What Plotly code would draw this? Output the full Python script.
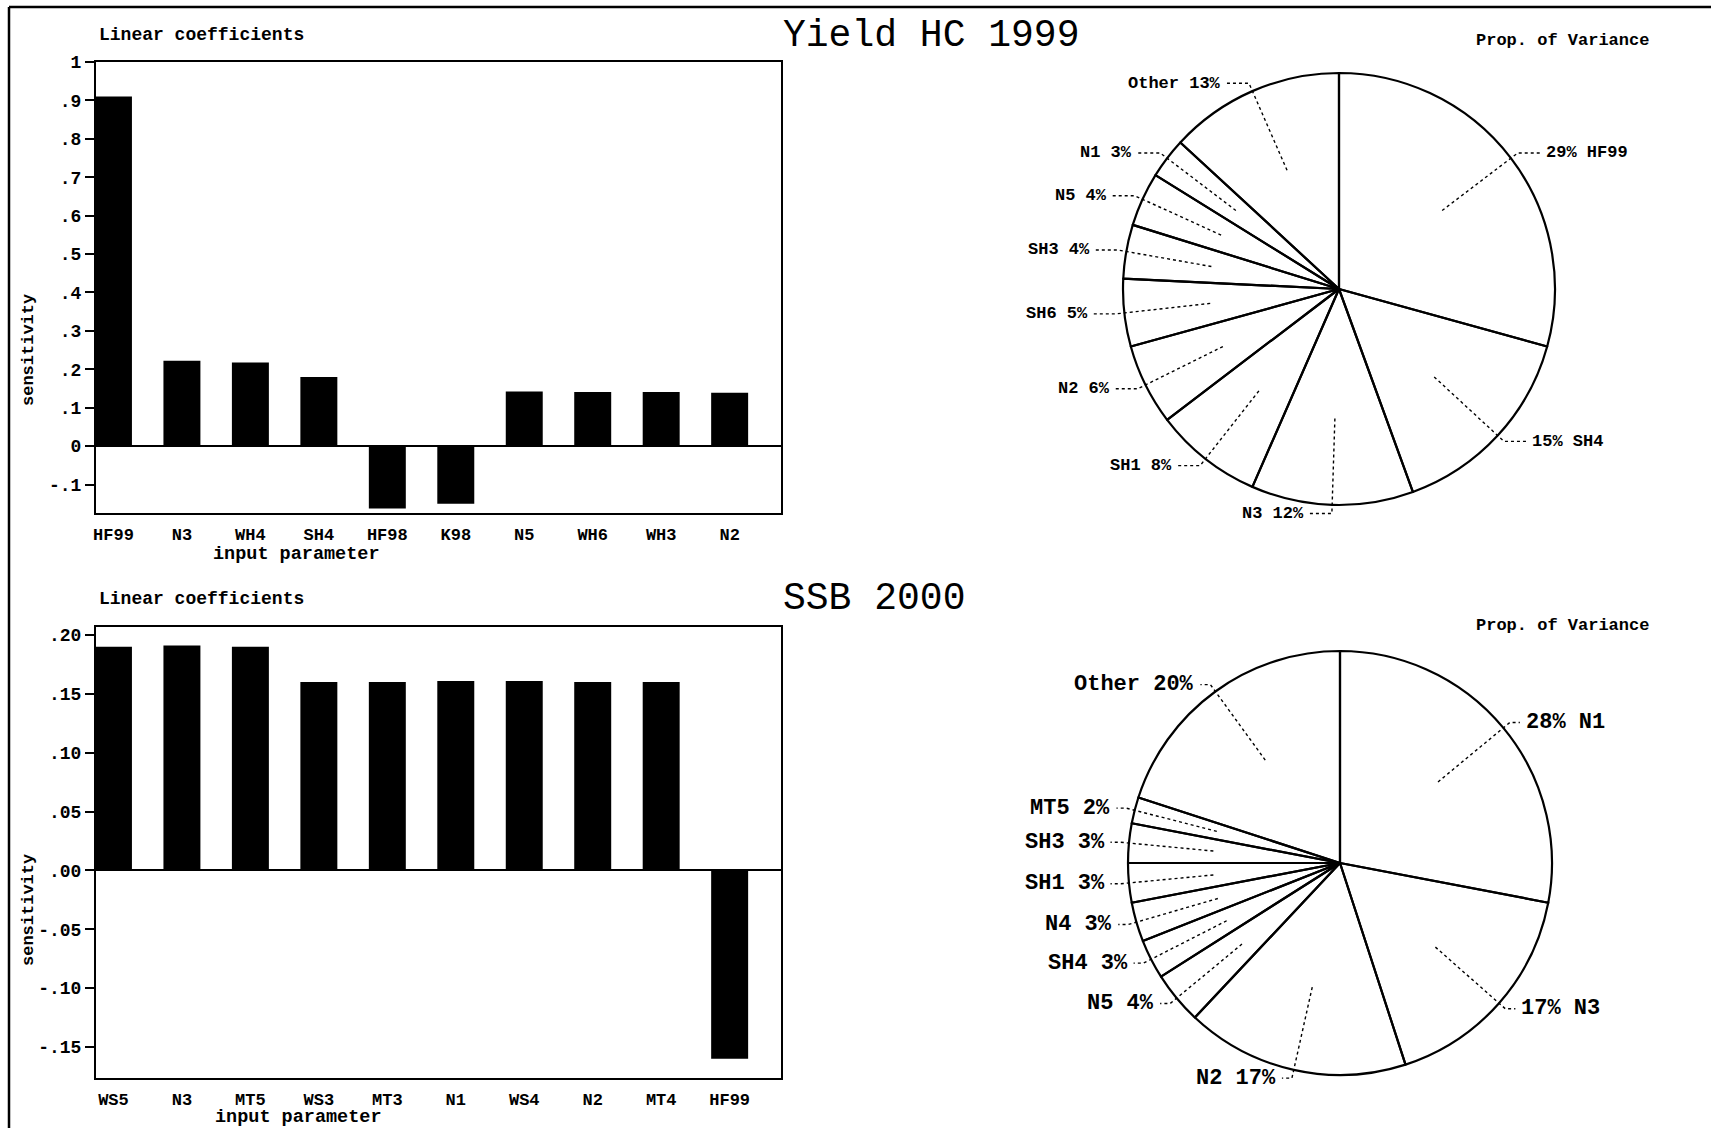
import math
import plotly.graph_objects as go

W, H = 1711, 1128

# ---------------- data ----------------
bar1_cats = ["HF99", "N3", "WH4", "SH4", "HF98", "K98", "N5", "WH6", "WH3", "N2"]
bar1_vals = [0.91, 0.222, 0.218, 0.18, -0.162, -0.15, 0.142, 0.141, 0.141, 0.139]
bar1_tickvals = [1.0, 0.9, 0.8, 0.7, 0.6, 0.5, 0.4, 0.3, 0.2, 0.1, 0.0, -0.1]
bar1_ticktext = ["1", ".9", ".8", ".7", ".6", ".5", ".4", ".3", ".2", ".1", "0", "-.1"]

bar2_cats = ["WS5", "N3", "MT5", "WS3", "MT3", "N1", "WS4", "N2", "MT4", "HF99"]
bar2_vals = [0.19, 0.191, 0.19, 0.16, 0.16, 0.161, 0.161, 0.16, 0.16, -0.16]
bar2_tickvals = [0.20, 0.15, 0.10, 0.05, 0.00, -0.05, -0.10, -0.15]
bar2_ticktext = [".20", ".15", ".10", ".05", ".00", "-.05", "-.10", "-.15"]

pie1_labels = ["HF99", "SH4", "N3", "SH1", "N2", "SH6", "SH3", "N5", "N1", "Other"]
pie1_values = [29, 15, 12, 8, 6, 5, 4, 4, 3, 13]

pie2_labels = ["N1", "N3", "N2", "N5", "SH4", "N4", "SH1", "SH3", "MT5", "Other"]
pie2_values = [28, 17, 17, 4, 3, 3, 3, 3, 2, 20]

# ---------------- layout geometry (pixels) ----------------
BAR_L, BAR_R = 96, 781
BAR1_T, BAR1_B = 62, 513
BAR2_T, BAR2_B = 627, 1078
PIE1 = (1339, 289, 216)
PIE2 = (1340, 863, 212)

MONO = "Liberation Mono, DejaVu Sans Mono, monospace"
LBL = dict(family=MONO, size=17, color="black", weight="bold")
TICK = dict(family=MONO, size=18, color="black", weight="bold")


def dx(a, b):
    return [a / W, b / W]


def dy(t, b):
    return [1 - b / H, 1 - t / H]


fig = go.Figure()

# bars
fig.add_trace(go.Bar(x=bar1_cats, y=bar1_vals, marker=dict(color="black", line=dict(width=0)),
                     width=0.54, xaxis="x", yaxis="y", showlegend=False, hoverinfo="skip"))
fig.add_trace(go.Bar(x=bar2_cats, y=bar2_vals, marker=dict(color="black", line=dict(width=0)),
                     width=0.54, xaxis="x2", yaxis="y2", showlegend=False, hoverinfo="skip"))


def pie_trace(labels, values, geo):
    cx, cy, r = geo
    return go.Pie(labels=labels, values=values, sort=False, direction="clockwise", rotation=0,
                  textinfo="none", hoverinfo="skip", showlegend=False, automargin=False,
                  marker=dict(colors=["rgba(0,0,0,0)"] * len(values),
                              line=dict(color="black", width=2.2)),
                  domain=dict(x=dx(cx - r, cx + r), y=dy(cy - r, cy + r)))


fig.add_trace(pie_trace(pie1_labels, pie1_values, PIE1))
fig.add_trace(pie_trace(pie2_labels, pie2_values, PIE2))

annotations = []


def leaders(labels, values, geo, fsize, hlen):
    cx, cy, r = geo
    total = float(sum(values))
    cum = 0.0
    xs, ys = [], []
    for lab, v in zip(labels, values):
        a = (cum + v / 2.0) / total * 2 * math.pi
        cum += v
        s, c = math.sin(a), math.cos(a)
        p0 = (cx + 0.6 * r * s, cy - 0.6 * r * c)
        p1 = (cx + 1.04 * r * s, cy - 1.04 * r * c)
        side = 1 if s > 0.05 else -1
        p2 = (p1[0] + side * hlen, p1[1])
        xs += [p0[0], p1[0], p2[0], None]
        ys += [p0[1], p1[1], p2[1], None]
        pct = "%d%%" % round(v)
        text = (pct + " " + lab) if side > 0 else (lab + " " + pct)
        annotations.append(dict(x=p2[0] + side * 4, y=p2[1], xref="x3", yref="y3", text=text,
                                showarrow=False, xanchor="left" if side > 0 else "right",
                                yanchor="middle", font=dict(LBL, size=fsize)))
    fig.add_trace(go.Scatter(x=xs, y=ys, mode="lines", xaxis="x3", yaxis="y3",
                             line=dict(color="black", width=1.4, dash="dot"),
                             showlegend=False, hoverinfo="skip", cliponaxis=False))


leaders(pie1_labels, pie1_values, PIE1, 17, 22)
leaders(pie2_labels, pie2_values, PIE2, 22, 10)


def txt(x, y, text, font, xanchor="left", textangle=0):
    annotations.append(dict(x=x, y=y, xref="x3", yref="y3", text=text, showarrow=False,
                            xanchor=xanchor, yanchor="middle", font=font, textangle=textangle))


TITLE = dict(family=MONO, size=38, color="black")
txt(781, 35, "Yield HC 1999", TITLE)
txt(781, 598, "SSB 2000", TITLE)
txt(97, 35, "Linear coefficients", dict(LBL, size=18))
txt(97, 599, "Linear coefficients", dict(LBL, size=18))
txt(1651, 40, "Prop. of Variance", LBL, xanchor="right")
txt(1651, 625, "Prop. of Variance", LBL, xanchor="right")
txt(28, 350, "sensitivity", LBL, xanchor="center", textangle=-90)
txt(28, 910, "sensitivity", LBL, xanchor="center", textangle=-90)
txt(296, 554, "input parameter", dict(LBL, size=18.5), xanchor="center")
txt(298, 1117, "input parameter", dict(LBL, size=18.5), xanchor="center")

xax = dict(type="category", range=[-0.255, 9.75], showline=True, mirror=True, linecolor="black",
           linewidth=2, ticks="", showgrid=False, zeroline=False, tickfont=LBL,
           ticklabelstandoff=5, fixedrange=True, automargin=False)
yax = dict(showline=True, mirror=True, linecolor="black", linewidth=2, ticks="outside",
           ticklen=9, tickwidth=2, tickcolor="black", showgrid=False, zeroline=True,
           zerolinecolor="black", zerolinewidth=2, tickfont=TICK, tickmode="array",
           fixedrange=True, automargin=False)

fig.update_layout(
    width=W, height=H, autosize=False,
    margin=dict(l=0, r=0, t=0, b=0, pad=0, autoexpand=False),
    paper_bgcolor="white", plot_bgcolor="rgba(0,0,0,0)",
    xaxis=dict(xax, domain=dx(BAR_L, BAR_R), anchor="y"),
    yaxis=dict(yax, domain=dy(BAR1_T, BAR1_B), range=[-0.174, 1.0],
               tickvals=bar1_tickvals, ticktext=bar1_ticktext, anchor="x"),
    xaxis2=dict(xax, domain=dx(BAR_L, BAR_R), anchor="y2"),
    yaxis2=dict(yax, domain=dy(BAR2_T, BAR2_B), range=[-0.1763, 0.2068],
                tickvals=bar2_tickvals, ticktext=bar2_ticktext, anchor="x2"),
    xaxis3=dict(domain=[0, 1], range=[0, W], visible=False, anchor="y3", fixedrange=True,
                automargin=False),
    yaxis3=dict(domain=[0, 1], range=[H, 0], visible=False, anchor="x3", fixedrange=True,
                automargin=False),
    annotations=annotations,
    shapes=[
        dict(type="line", xref="x3", yref="y3", x0=9, y0=7, x1=9, y1=H, line=dict(color="black", width=2.5)),
        dict(type="line", xref="x3", yref="y3", x0=9, y0=7, x1=W, y1=7, line=dict(color="black", width=2.5)),
    ],
)

fig.write_html(
    "out.html",
    config={"displayModeBar": False, "staticPlot": True},
    post_script=("document.body.style.margin='0px';document.body.style.overflow='hidden';"
                 "var d=document.getElementById('{plot_id}');d.style.position='absolute';"
                 "d.style.left='0px';d.style.top='0px';"),
)
